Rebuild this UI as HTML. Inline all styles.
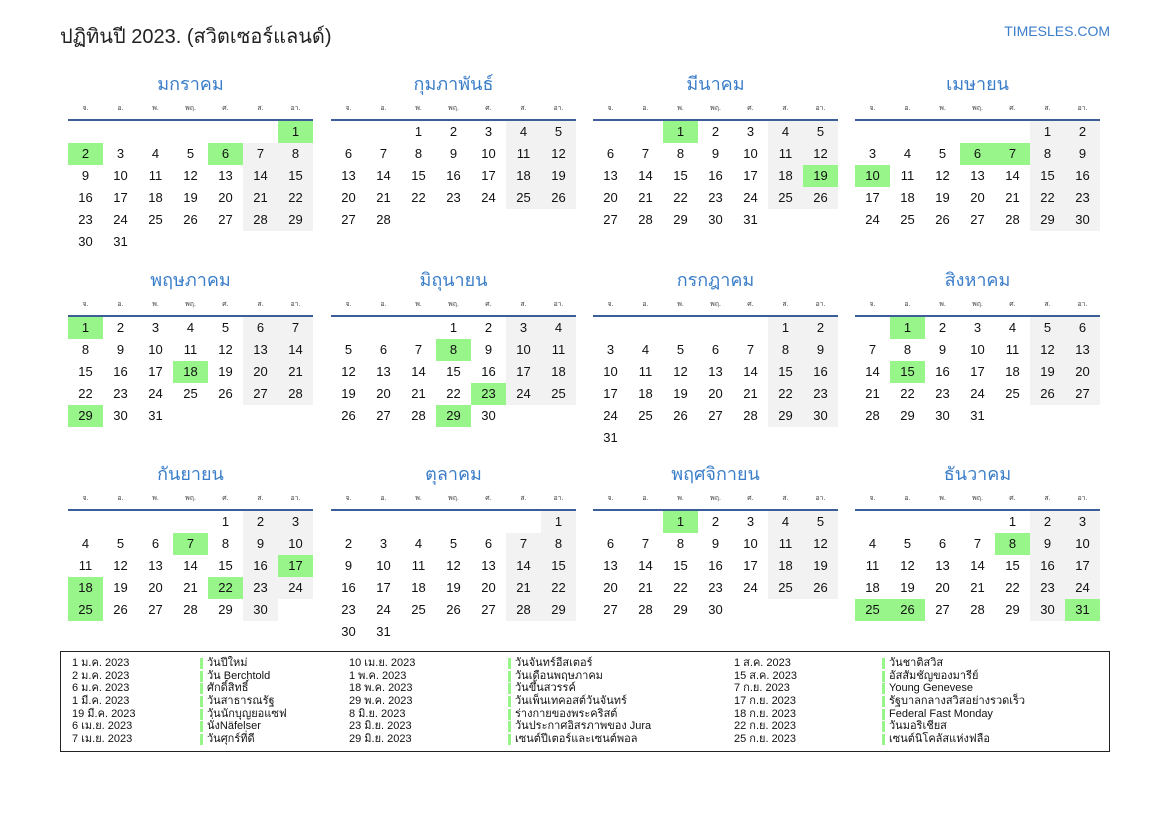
<!DOCTYPE html>
<html><head><meta charset="utf-8">
<style>
body{margin:0;width:1169px;height:827px;background:#fff;position:relative;font-family:"Liberation Sans","Noto Sans CJK SC",sans-serif;color:#111;overflow:hidden}
.t{position:absolute;left:60px;top:20px;font-size:20px;color:#222}
.site{position:absolute;right:59px;top:23px;font-size:14px;color:#3a7dc9}
.m{position:absolute;width:245px}
.m h2{margin:0;height:28px;line-height:28px;text-align:center;font-size:18px;font-weight:normal;color:#3a7dc9}
table{border-collapse:collapse;table-layout:fixed;width:245px}
th{height:21px;font-size:7px;font-weight:normal;color:#444;border-bottom:2px solid #3b5e99;padding:0;vertical-align:middle}
td{width:35px;height:22px;padding:0;text-align:center;font-size:13px;line-height:22px}
td:nth-child(n+6):not(:empty){background:#f2f2f2}
td.h{background:#98f58a!important}
.leg{position:absolute;left:60px;top:651px;width:1048px;height:99px;border:1px solid #222}
.c{position:absolute;top:5px;font-size:11px;line-height:12.7px;color:#111}
.c div{white-space:nowrap;height:12.7px}
.n div{padding-left:7px;background:linear-gradient(#98f58a,#98f58a) 0 1px/3px 11px no-repeat}
</style></head><body>
<div class="t">ปฏิทินปี 2023. (สวิตเซอร์แลนด์)</div>
<div class="site">TIMESLES.COM</div>

<div class="m" style="left:68px;top:70px"><h2>มกราคม</h2><table><tr><th>จ.</th><th>อ.</th><th>พ.</th><th>พฤ.</th><th>ศ.</th><th>ส.</th><th>อา.</th></tr>
<tr><td></td><td></td><td></td><td></td><td></td><td></td><td class="h">1</td></tr>
<tr><td class="h">2</td><td>3</td><td>4</td><td>5</td><td class="h">6</td><td>7</td><td>8</td></tr>
<tr><td>9</td><td>10</td><td>11</td><td>12</td><td>13</td><td>14</td><td>15</td></tr>
<tr><td>16</td><td>17</td><td>18</td><td>19</td><td>20</td><td>21</td><td>22</td></tr>
<tr><td>23</td><td>24</td><td>25</td><td>26</td><td>27</td><td>28</td><td>29</td></tr>
<tr><td>30</td><td>31</td><td></td><td></td><td></td><td></td><td></td></tr></table></div>

<div class="m" style="left:331px;top:70px"><h2>กุมภาพันธ์</h2><table><tr><th>จ.</th><th>อ.</th><th>พ.</th><th>พฤ.</th><th>ศ.</th><th>ส.</th><th>อา.</th></tr>
<tr><td></td><td></td><td>1</td><td>2</td><td>3</td><td>4</td><td>5</td></tr>
<tr><td>6</td><td>7</td><td>8</td><td>9</td><td>10</td><td>11</td><td>12</td></tr>
<tr><td>13</td><td>14</td><td>15</td><td>16</td><td>17</td><td>18</td><td>19</td></tr>
<tr><td>20</td><td>21</td><td>22</td><td>23</td><td>24</td><td>25</td><td>26</td></tr>
<tr><td>27</td><td>28</td><td></td><td></td><td></td><td></td><td></td></tr></table></div>

<div class="m" style="left:593px;top:70px"><h2>มีนาคม</h2><table><tr><th>จ.</th><th>อ.</th><th>พ.</th><th>พฤ.</th><th>ศ.</th><th>ส.</th><th>อา.</th></tr>
<tr><td></td><td></td><td class="h">1</td><td>2</td><td>3</td><td>4</td><td>5</td></tr>
<tr><td>6</td><td>7</td><td>8</td><td>9</td><td>10</td><td>11</td><td>12</td></tr>
<tr><td>13</td><td>14</td><td>15</td><td>16</td><td>17</td><td>18</td><td class="h">19</td></tr>
<tr><td>20</td><td>21</td><td>22</td><td>23</td><td>24</td><td>25</td><td>26</td></tr>
<tr><td>27</td><td>28</td><td>29</td><td>30</td><td>31</td><td></td><td></td></tr></table></div>

<div class="m" style="left:855px;top:70px"><h2>เมษายน</h2><table><tr><th>จ.</th><th>อ.</th><th>พ.</th><th>พฤ.</th><th>ศ.</th><th>ส.</th><th>อา.</th></tr>
<tr><td></td><td></td><td></td><td></td><td></td><td>1</td><td>2</td></tr>
<tr><td>3</td><td>4</td><td>5</td><td class="h">6</td><td class="h">7</td><td>8</td><td>9</td></tr>
<tr><td class="h">10</td><td>11</td><td>12</td><td>13</td><td>14</td><td>15</td><td>16</td></tr>
<tr><td>17</td><td>18</td><td>19</td><td>20</td><td>21</td><td>22</td><td>23</td></tr>
<tr><td>24</td><td>25</td><td>26</td><td>27</td><td>28</td><td>29</td><td>30</td></tr></table></div>

<div class="m" style="left:68px;top:266px"><h2>พฤษภาคม</h2><table><tr><th>จ.</th><th>อ.</th><th>พ.</th><th>พฤ.</th><th>ศ.</th><th>ส.</th><th>อา.</th></tr>
<tr><td class="h">1</td><td>2</td><td>3</td><td>4</td><td>5</td><td>6</td><td>7</td></tr>
<tr><td>8</td><td>9</td><td>10</td><td>11</td><td>12</td><td>13</td><td>14</td></tr>
<tr><td>15</td><td>16</td><td>17</td><td class="h">18</td><td>19</td><td>20</td><td>21</td></tr>
<tr><td>22</td><td>23</td><td>24</td><td>25</td><td>26</td><td>27</td><td>28</td></tr>
<tr><td class="h">29</td><td>30</td><td>31</td><td></td><td></td><td></td><td></td></tr></table></div>

<div class="m" style="left:331px;top:266px"><h2>มิถุนายน</h2><table><tr><th>จ.</th><th>อ.</th><th>พ.</th><th>พฤ.</th><th>ศ.</th><th>ส.</th><th>อา.</th></tr>
<tr><td></td><td></td><td></td><td>1</td><td>2</td><td>3</td><td>4</td></tr>
<tr><td>5</td><td>6</td><td>7</td><td class="h">8</td><td>9</td><td>10</td><td>11</td></tr>
<tr><td>12</td><td>13</td><td>14</td><td>15</td><td>16</td><td>17</td><td>18</td></tr>
<tr><td>19</td><td>20</td><td>21</td><td>22</td><td class="h">23</td><td>24</td><td>25</td></tr>
<tr><td>26</td><td>27</td><td>28</td><td class="h">29</td><td>30</td><td></td><td></td></tr></table></div>

<div class="m" style="left:593px;top:266px"><h2>กรกฎาคม</h2><table><tr><th>จ.</th><th>อ.</th><th>พ.</th><th>พฤ.</th><th>ศ.</th><th>ส.</th><th>อา.</th></tr>
<tr><td></td><td></td><td></td><td></td><td></td><td>1</td><td>2</td></tr>
<tr><td>3</td><td>4</td><td>5</td><td>6</td><td>7</td><td>8</td><td>9</td></tr>
<tr><td>10</td><td>11</td><td>12</td><td>13</td><td>14</td><td>15</td><td>16</td></tr>
<tr><td>17</td><td>18</td><td>19</td><td>20</td><td>21</td><td>22</td><td>23</td></tr>
<tr><td>24</td><td>25</td><td>26</td><td>27</td><td>28</td><td>29</td><td>30</td></tr>
<tr><td>31</td><td></td><td></td><td></td><td></td><td></td><td></td></tr></table></div>

<div class="m" style="left:855px;top:266px"><h2>สิงหาคม</h2><table><tr><th>จ.</th><th>อ.</th><th>พ.</th><th>พฤ.</th><th>ศ.</th><th>ส.</th><th>อา.</th></tr>
<tr><td></td><td class="h">1</td><td>2</td><td>3</td><td>4</td><td>5</td><td>6</td></tr>
<tr><td>7</td><td>8</td><td>9</td><td>10</td><td>11</td><td>12</td><td>13</td></tr>
<tr><td>14</td><td class="h">15</td><td>16</td><td>17</td><td>18</td><td>19</td><td>20</td></tr>
<tr><td>21</td><td>22</td><td>23</td><td>24</td><td>25</td><td>26</td><td>27</td></tr>
<tr><td>28</td><td>29</td><td>30</td><td>31</td><td></td><td></td><td></td></tr></table></div>

<div class="m" style="left:68px;top:460px"><h2>กันยายน</h2><table><tr><th>จ.</th><th>อ.</th><th>พ.</th><th>พฤ.</th><th>ศ.</th><th>ส.</th><th>อา.</th></tr>
<tr><td></td><td></td><td></td><td></td><td>1</td><td>2</td><td>3</td></tr>
<tr><td>4</td><td>5</td><td>6</td><td class="h">7</td><td>8</td><td>9</td><td>10</td></tr>
<tr><td>11</td><td>12</td><td>13</td><td>14</td><td>15</td><td>16</td><td class="h">17</td></tr>
<tr><td class="h">18</td><td>19</td><td>20</td><td>21</td><td class="h">22</td><td>23</td><td>24</td></tr>
<tr><td class="h">25</td><td>26</td><td>27</td><td>28</td><td>29</td><td>30</td><td></td></tr></table></div>

<div class="m" style="left:331px;top:460px"><h2>ตุลาคม</h2><table><tr><th>จ.</th><th>อ.</th><th>พ.</th><th>พฤ.</th><th>ศ.</th><th>ส.</th><th>อา.</th></tr>
<tr><td></td><td></td><td></td><td></td><td></td><td></td><td>1</td></tr>
<tr><td>2</td><td>3</td><td>4</td><td>5</td><td>6</td><td>7</td><td>8</td></tr>
<tr><td>9</td><td>10</td><td>11</td><td>12</td><td>13</td><td>14</td><td>15</td></tr>
<tr><td>16</td><td>17</td><td>18</td><td>19</td><td>20</td><td>21</td><td>22</td></tr>
<tr><td>23</td><td>24</td><td>25</td><td>26</td><td>27</td><td>28</td><td>29</td></tr>
<tr><td>30</td><td>31</td><td></td><td></td><td></td><td></td><td></td></tr></table></div>

<div class="m" style="left:593px;top:460px"><h2>พฤศจิกายน</h2><table><tr><th>จ.</th><th>อ.</th><th>พ.</th><th>พฤ.</th><th>ศ.</th><th>ส.</th><th>อา.</th></tr>
<tr><td></td><td></td><td class="h">1</td><td>2</td><td>3</td><td>4</td><td>5</td></tr>
<tr><td>6</td><td>7</td><td>8</td><td>9</td><td>10</td><td>11</td><td>12</td></tr>
<tr><td>13</td><td>14</td><td>15</td><td>16</td><td>17</td><td>18</td><td>19</td></tr>
<tr><td>20</td><td>21</td><td>22</td><td>23</td><td>24</td><td>25</td><td>26</td></tr>
<tr><td>27</td><td>28</td><td>29</td><td>30</td><td></td><td></td><td></td></tr></table></div>

<div class="m" style="left:855px;top:460px"><h2>ธันวาคม</h2><table><tr><th>จ.</th><th>อ.</th><th>พ.</th><th>พฤ.</th><th>ศ.</th><th>ส.</th><th>อา.</th></tr>
<tr><td></td><td></td><td></td><td></td><td>1</td><td>2</td><td>3</td></tr>
<tr><td>4</td><td>5</td><td>6</td><td>7</td><td class="h">8</td><td>9</td><td>10</td></tr>
<tr><td>11</td><td>12</td><td>13</td><td>14</td><td>15</td><td>16</td><td>17</td></tr>
<tr><td>18</td><td>19</td><td>20</td><td>21</td><td>22</td><td>23</td><td>24</td></tr>
<tr><td class="h">25</td><td class="h">26</td><td>27</td><td>28</td><td>29</td><td>30</td><td class="h">31</td></tr></table></div>

<div class="leg">
<div class="c" style="left:11px"><div>1 ม.ค. 2023</div><div>2 ม.ค. 2023</div><div>6 ม.ค. 2023</div><div>1 มี.ค. 2023</div><div>19 มี.ค. 2023</div><div>6 เม.ย. 2023</div><div>7 เม.ย. 2023</div></div>
<div class="c n" style="left:139px"><div>วันปีใหม่</div><div>วัน Berchtold</div><div>ศักดิ์สิทธิ์</div><div>วันสาธารณรัฐ</div><div>วันนักบุญยอแซฟ</div><div>นั่งNäfelser</div><div>วันศุกร์ที่ดี</div></div>
<div class="c" style="left:288px"><div>10 เม.ย. 2023</div><div>1 พ.ค. 2023</div><div>18 พ.ค. 2023</div><div>29 พ.ค. 2023</div><div>8 มิ.ย. 2023</div><div>23 มิ.ย. 2023</div><div>29 มิ.ย. 2023</div></div>
<div class="c n" style="left:447px"><div>วันจันทร์อีสเตอร์</div><div>วันเดือนพฤษภาคม</div><div>วันขึ้นสวรรค์</div><div>วันเพ็นเทคอสต์วันจันทร์</div><div>ร่างกายของพระคริสต์</div><div>วันประกาศอิสรภาพของ Jura</div><div>เซนต์ปีเตอร์และเซนต์พอล</div></div>
<div class="c" style="left:673px"><div>1 ส.ค. 2023</div><div>15 ส.ค. 2023</div><div>7 ก.ย. 2023</div><div>17 ก.ย. 2023</div><div>18 ก.ย. 2023</div><div>22 ก.ย. 2023</div><div>25 ก.ย. 2023</div></div>
<div class="c n" style="left:821px"><div>วันชาติสวิส</div><div>อัสสัมชัญของมารีย์</div><div>Young Genevese</div><div>รัฐบาลกลางสวิสอย่างรวดเร็ว</div><div>Federal Fast Monday</div><div>วันมอริเชียส</div><div>เซนต์นิโคลัสแห่งฟลือ</div></div>
</div>
</body></html>
